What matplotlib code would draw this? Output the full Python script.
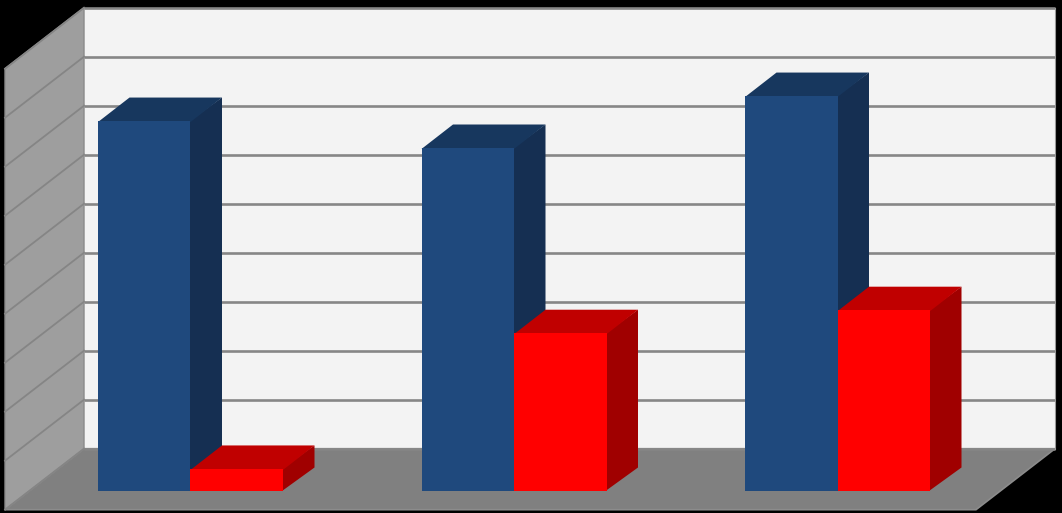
import matplotlib
matplotlib.use("Agg")
import matplotlib.pyplot as plt
from matplotlib.patches import Polygon

# Data (units: gridline intervals)
categories = [0, 1, 2]
blue_values = [7.55, 7.00, 8.06]
red_values = [0.45, 3.22, 3.69]
grid_levels = list(range(0, 10))

# Layout (pixels of the 1062x513 figure)
W, H = 1062, 513
X0_PX, CAT_PX, BAR_PX = 190.5, 323.5, 92.5
Y0_PX, UNIT_PX = 491.0, 49.0
BAR_DX, BAR_DY = 31.5 / CAT_PX, 23.5 / UNIT_PX
WALL_L, WALL_R = (84 - X0_PX) / CAT_PX, (1055 - X0_PX) / CAT_PX
FLOOR_BACK = (Y0_PX - 448.7) / UNIT_PX
FLOOR_FRONT = (Y0_PX - 510) / UNIT_PX
SIDE_DX, SIDE_DY = 79 / CAT_PX, 61 / UNIT_PX
BW = BAR_PX / CAT_PX
SEAM = 1.0 / CAT_PX

fig = plt.figure(figsize=(W / 100, H / 100), dpi=100, facecolor="black")
ax = fig.add_axes([0, 0, 1, 1])
ax.set_xlim(-X0_PX / CAT_PX, (W - X0_PX) / CAT_PX)
ax.set_ylim((Y0_PX - H) / UNIT_PX, Y0_PX / UNIT_PX)
ax.axis("off")

GRID = "#868686"
top = FLOOR_BACK + grid_levels[-1]

def poly(pts, fc, ec="none", lw=0, z=1):
    ax.add_patch(Polygon(pts, closed=True, fc=fc, ec=ec, lw=lw, zorder=z, joinstyle="miter"))

# back wall, floor and side wall
poly([(WALL_L, FLOOR_BACK), (WALL_R, FLOOR_BACK), (WALL_R, top), (WALL_L, top)], "#f3f3f3", z=1)
poly([(WALL_L - SIDE_DX, FLOOR_BACK - SIDE_DY), (WALL_L, FLOOR_BACK), (WALL_R, FLOOR_BACK),
      (WALL_R - SIDE_DX, FLOOR_BACK - SIDE_DY)], "#808080", ec="#8c8c8c", lw=1.2, z=2)
poly([(WALL_L - SIDE_DX, FLOOR_BACK - SIDE_DY), (WALL_L, FLOOR_BACK), (WALL_L, top),
      (WALL_L - SIDE_DX, top - SIDE_DY)], "#9e9e9e", ec="#8a8a8a", lw=1.0, z=3)

# gridlines
for g in grid_levels:
    y = FLOOR_BACK + g
    ax.plot([WALL_L, WALL_R], [y, y], color=GRID, lw=1.9, zorder=4, solid_capstyle="butt")
    ax.plot([WALL_L - SIDE_DX, WALL_L], [y - SIDE_DY, y], color="#858585", lw=1.3, zorder=4)
ax.plot([WALL_R, WALL_R], [FLOOR_BACK, top], color="#9a9a9a", lw=0.8, zorder=4)

# 3D bars
series = [
    (blue_values, -BW, "#1f497d", "#17375e", "#152f52"),
    (red_values, 0.0, "#ff0000", "#c00000", "#a00000"),
]
for values, off, front, cap, side in series:
    for c, v in zip(categories, values):
        l, r = c + off, c + off + BW
        poly([(r - SEAM, 0), (r + BAR_DX, BAR_DY), (r + BAR_DX, v + BAR_DY), (r - SEAM, v)], side, z=5 + c)
        poly([(l, v - 0.02), (r, v - 0.02), (r + BAR_DX, v + BAR_DY), (l + BAR_DX, v + BAR_DY)], cap, z=5 + c + 0.1)

for values, off, front, cap, side in series:
    for c, v in zip(categories, values):
        ax.bar(c + off, v, width=BW, align="edge", color=front, zorder=5 + c + 0.5 + (0.1 if off == 0 else 0))

fig.savefig("out.png", dpi=100, facecolor="black")
